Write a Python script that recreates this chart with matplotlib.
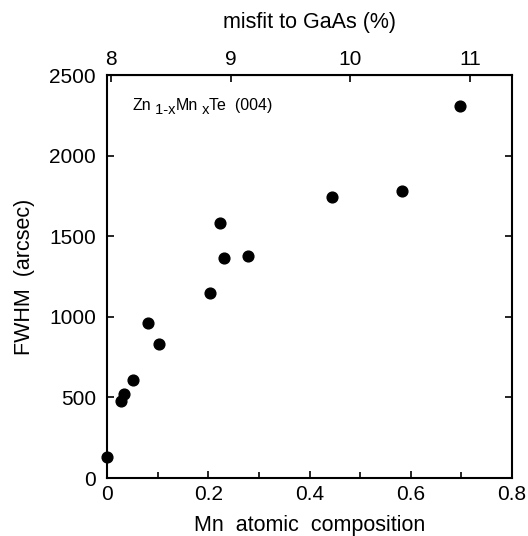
import numpy as np
import matplotlib
matplotlib.use('Agg')
import matplotlib.pyplot as plt

plt.rcParams['font.family'] = ['Liberation Sans', 'DejaVu Sans']

# Mn composition x vs FWHM (arcsec)
mn_x = [0.0, 0.027, 0.034, 0.051, 0.080, 0.102, 0.204, 0.223, 0.231, 0.278, 0.444, 0.582, 0.697]
fwhm = [130, 479, 524, 611, 960, 831, 1149, 1580, 1362, 1376, 1741, 1779, 2309]

x_ticks = [0, 0.2, 0.4, 0.6, 0.8]
x_tick_labels = ['0', '0.2', '0.4', '0.6', '0.8']
y_ticks = [0, 500, 1000, 1500, 2000, 2500]
misfit_ticks = [8, 9, 10, 11]

# misfit (%) is roughly linear in composition
m0, m1 = 7.967, 4.23

fig = plt.figure(figsize=(5.28, 5.36), dpi=100)
ax = fig.add_axes([0.2027, 0.1082, 0.7670, 0.7518])

ax.scatter(mn_x, fwhm, s=60, color='black', zorder=3, clip_on=False)

ax.set_xlim(0, 0.8)
ax.set_ylim(0, 2500)
ax.set_xticks(x_ticks)
ax.set_xticklabels(x_tick_labels)
ax.set_xticks(np.arange(0.1, 0.8, 0.2), minor=True)
ax.set_yticks(y_ticks)
ax.tick_params(which='both', direction='in', labelsize=15, right=True, top=False, width=1.2)
ax.tick_params(which='major', length=5)
ax.tick_params(which='minor', length=4)
ax.tick_params(axis='x', pad=5)
ax.tick_params(axis='y', pad=8)
for s in ax.spines.values():
    s.set_linewidth(1.5)

ax.set_xlabel('Mn  atomic  composition', fontsize=15.5, labelpad=8)
ax.set_ylabel('FWHM  (arcsec)', fontsize=15.5, labelpad=10)

top = ax.secondary_xaxis('top', functions=(lambda v: m0 + m1 * v, lambda m: (m - m0) / m1))
top.set_xticks(misfit_ticks)
top.tick_params(direction='in', labelsize=15, length=5, width=1.2, pad=4)
top.set_xlabel('misfit to GaAs (%)', fontsize=15.5, labelpad=16)

# sample label, built piece by piece so the subscripts stay large
pieces = [('Zn', 0), (' 1-x', -3), ('Mn', 3), (' x', -3), ('Te  (004)', 3)]
t = ax.text(0.05, 2285, pieces[0][0], fontsize=11.5, va='baseline')
for txt, dy in pieces[1:]:
    t = ax.annotate(txt, xy=(1, 0), xycoords=t, xytext=(0, dy), textcoords='offset points',
                    fontsize=10.5 if dy < 0 else 11.5, va='bottom')

fig.savefig('out.png', dpi=100)
